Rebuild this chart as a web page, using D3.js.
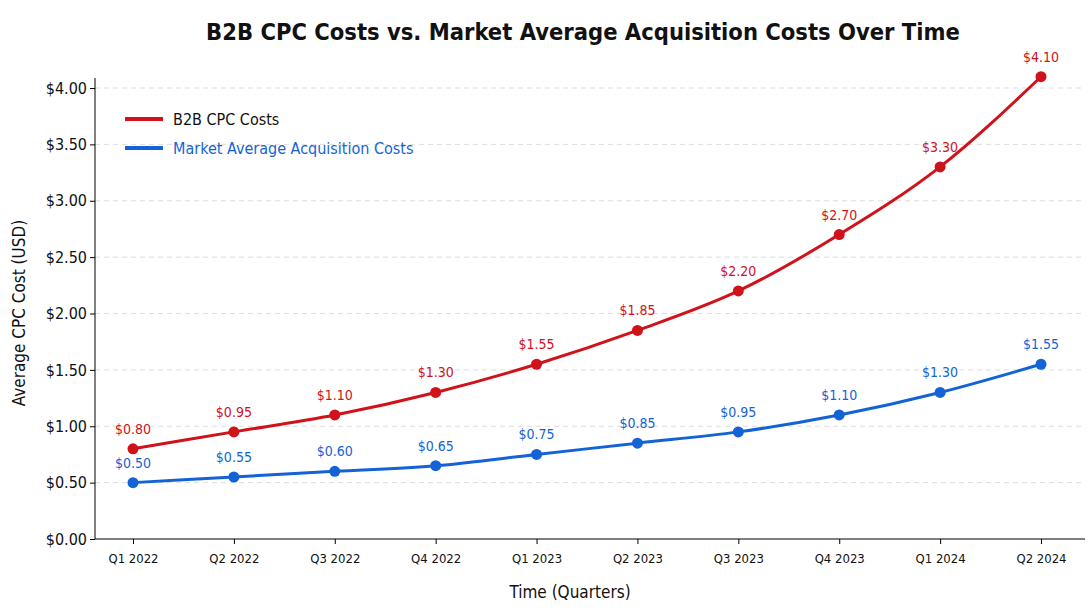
<!DOCTYPE html>
<html><head><meta charset="utf-8">
<script src="https://cdn.jsdelivr.net/npm/d3@7"></script>
<style>body{margin:0;background:#fff}text{font-family:"DejaVu Sans Condensed","Roboto",sans-serif}</style>
</head><body><svg id="c" width="1088" height="608"></svg>
<script>
const categories=["Q1 2022","Q2 2022","Q3 2022","Q4 2022","Q1 2023","Q2 2023","Q3 2023","Q4 2023","Q1 2024","Q2 2024"];
const b2b=[0.80,0.95,1.10,1.30,1.55,1.85,2.20,2.70,3.30,4.10];
const market=[0.50,0.55,0.60,0.65,0.75,0.85,0.95,1.10,1.30,1.55];
const yTicks=[0,0.5,1,1.5,2,2.5,3,3.5,4];
const svg=d3.select("#c");
const L=95,R=1085,T=78,B=539;
const x=d3.scalePoint().domain(categories).range([133,1041]);
const y=d3.scaleLinear().domain([0,4.25]).range([B,B-4.25*112.75]);
svg.append("g").selectAll("line").data(yTicks.slice(1)).join("line")
 .attr("x1",L).attr("x2",R).attr("y1",d=>y(d)).attr("y2",d=>y(d))
 .attr("stroke","#ddd").attr("stroke-dasharray","5,4");
const ya=svg.append("g").attr("transform",`translate(${L},0)`).call(d3.axisLeft(y).tickValues(yTicks).tickFormat(d=>"$"+d.toFixed(2)).tickSize(5));
ya.select(".domain").attr("d",`M0,${T}V${B}`);
ya.selectAll("text").attr("font-size",16).attr("fill","#111");
const xa=svg.append("g").attr("transform",`translate(0,${B})`).call(d3.axisBottom(x).tickSize(5));
xa.select(".domain").attr("d",`M${L},0H${R}`);
xa.selectAll("text").attr("font-size",13).attr("fill","#111").attr("dy","1.2em");
const series=[{v:b2b,c:"#d0121b",n:"B2B CPC Costs"},{v:market,c:"#1463d6",n:"Market Average Acquisition Costs"}];
const line=d3.line().x((d,i)=>x(categories[i])).y(d=>y(d)).curve(d3.curveMonotoneX);
series.forEach(s=>{
 svg.append("path").attr("d",line(s.v)).attr("fill","none").attr("stroke",s.c).attr("stroke-width",3);
 svg.append("g").selectAll("circle").data(s.v).join("circle").attr("cx",(d,i)=>x(categories[i])).attr("cy",d=>y(d)).attr("r",5.5).attr("fill",s.c);
 svg.append("g").selectAll("text").data(s.v).join("text").attr("x",(d,i)=>x(categories[i])).attr("y",d=>y(d)-15)
  .attr("text-anchor","middle").attr("font-size",14).attr("fill",s.c).text(d=>"$"+d.toFixed(2));
});
series.forEach((s,i)=>{
 const yy=119+i*29;
 svg.append("line").attr("x1",125).attr("x2",163).attr("y1",yy).attr("y2",yy).attr("stroke",s.c).attr("stroke-width",4);
 svg.append("text").attr("x",173).attr("y",yy+6).attr("font-size",16).attr("fill",i?s.c:"#111").text(s.n);
});
svg.append("text").attr("x",583).attr("y",40).attr("text-anchor","middle").attr("font-size",23.5).attr("font-weight","bold").attr("fill","#111").text("B2B CPC Costs vs. Market Average Acquisition Costs Over Time");
svg.append("text").attr("x",570).attr("y",598).attr("text-anchor","middle").attr("font-size",17).attr("fill","#111").text("Time (Quarters)");
svg.append("text").attr("transform","translate(25,313) rotate(-90)").attr("text-anchor","middle").attr("font-size",17).attr("fill","#111").text("Average CPC Cost (USD)");
</script></body></html>
